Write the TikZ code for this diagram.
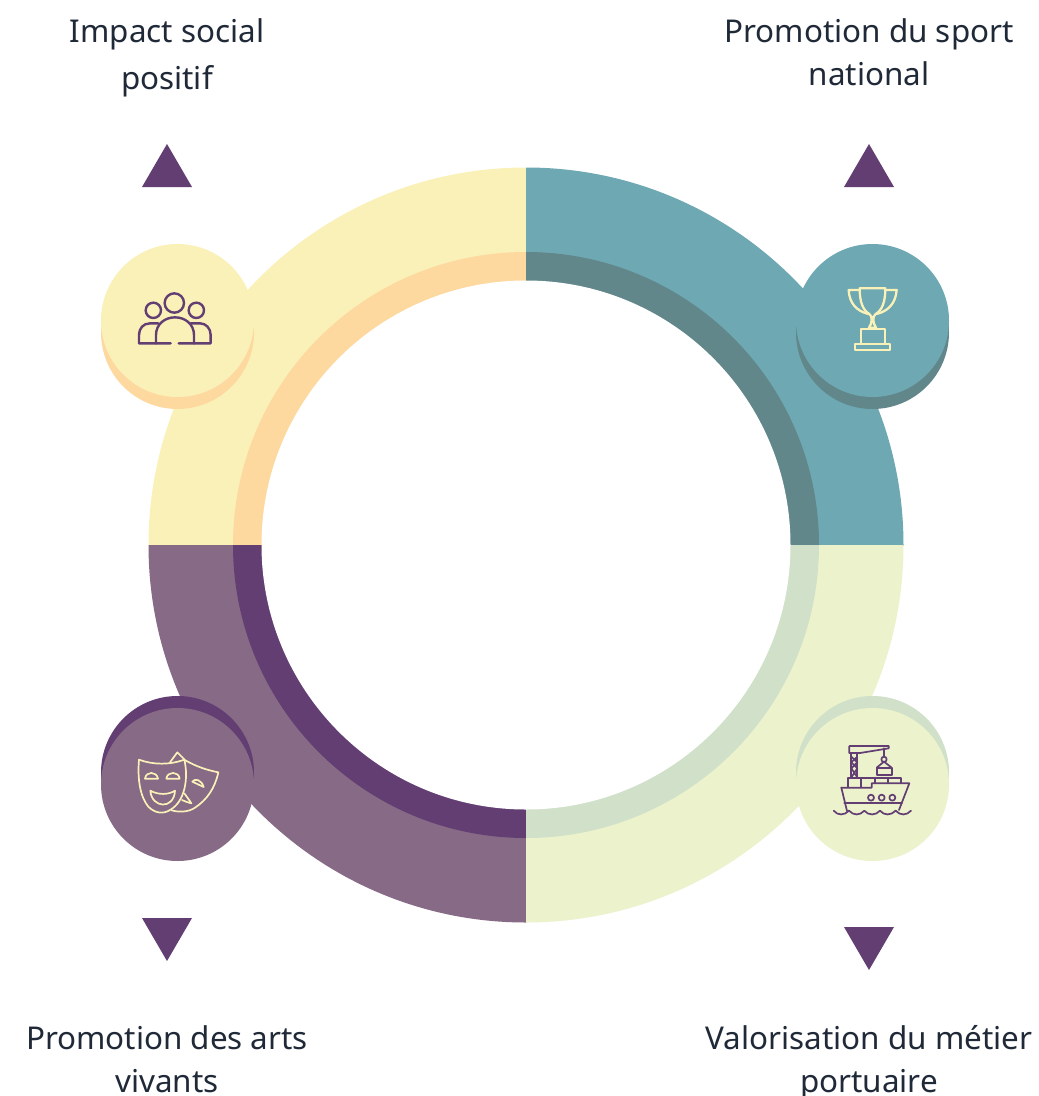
\documentclass[tikz,border=0pt]{standalone}
\usepackage{fontspec}
\setmainfont{Noto Sans}
\definecolor{yel}{HTML}{FAF1B9}
\definecolor{ora}{HTML}{FDD9A0}
\definecolor{tea}{HTML}{6EA8B3}
\definecolor{dtea}{HTML}{61878A}
\definecolor{grn}{HTML}{ECF2CC}
\definecolor{sag}{HTML}{D0E0C9}
\definecolor{lpu}{HTML}{876A85}
\definecolor{pur}{HTML}{623E73}
\definecolor{ink}{HTML}{1F2937}
\tikzset{
  lab/.style={font=\fontsize{31.4}{31.4}\selectfont,text=ink,inner sep=0pt,anchor=base},
  tri/.style={fill=pur,draw=none},
  iconscope/.style={scale=1/3,line join=round,line cap=round,line width=1.7pt,fill=none},
}
\newcommand{\quadrant}[3]{%
  \begin{scope}
    \clip #1;
    \fill[#2] (526,545) circle[radius=377.5pt];
    \fill[#3] (526,545) circle[radius=293pt];
  \end{scope}}
\begin{document}
\begin{tikzpicture}[x=1pt,y=-1pt]
\useasboundingbox (0,0) rectangle (1039,1096);
\fill[white] (0,0) rectangle (1039,1096);
% ring
\quadrant{(526,545) rectangle (100,100)}{yel}{ora}
\quadrant{(526,545) rectangle (950,100)}{tea}{dtea}
\quadrant{(526,545) rectangle (100,950)}{lpu}{pur}
\quadrant{(526,545) rectangle (950,950)}{grn}{sag}
\fill[white] (526,545) circle[radius=264.5pt];
% discs
\fill[ora] (177.5,332.5) circle[radius=76.5pt];
\fill[yel] (177.5,320.5) circle[radius=76.5pt];
\fill[dtea] (872.5,332.5) circle[radius=76.5pt];
\fill[tea] (872.5,320.5) circle[radius=76.5pt];
\fill[pur] (177.5,772.5) circle[radius=76.5pt];
\fill[lpu] (177.5,784.5) circle[radius=76.5pt];
\fill[sag] (872.5,772.5) circle[radius=76.5pt];
\fill[grn] (872.5,784.5) circle[radius=76.5pt];
% people icon
\begin{scope}[shift={(90,230)},iconscope,draw=pur,line width=2.4pt]
  \draw (253,219) circle[radius=29pt];
  \draw (190,241) circle[radius=23pt];
  \draw (319,241) circle[radius=23pt];
  \draw (242,340) -- (198,340) -- (198,315) .. controls (198,282) and (225,262) .. (255,262) .. controls (285,262) and (312,282) .. (312,315) -- (312,340) -- (266,340);
  \draw (198,340) -- (147,340) -- (147,315) .. controls (147,295) and (160,280) .. (180,280) -- (205,280);
  \draw (312,340) -- (362,340) -- (362,315) .. controls (362,295) and (348,280) .. (330,280) -- (302,280);
\end{scope}
% trophy icon
\begin{scope}[shift={(785,230)},iconscope,draw=yel,line width=2.3pt]
  \draw (224,175) -- (301,175) .. controls (301,215) and (292,240) .. (272,252) .. controls (262,258) and (263,280) .. (273,293) -- (252,293) .. controls (262,280) and (263,258) .. (253,252) .. controls (233,240) and (224,215) .. (224,175) -- cycle;
  \draw (224,180) -- (191,180) .. controls (193,220) and (215,243) .. (250,252);
  \draw (301,180) -- (335,180) .. controls (332,220) and (310,243) .. (275,252);
  \draw (227,342) -- (227,296) -- (301,296) -- (301,342);
  \draw (209,342) rectangle (316,361);
\end{scope}
% masks icon
\begin{scope}[shift={(90,685)},iconscope,draw=yel]
  \draw (147,224) .. controls (190,240) and (240,240) .. (283,224) .. controls (296,280) and (285,350) .. (240,375) .. controls (220,388) and (195,385) .. (175,365) .. controls (150,335) and (142,280) .. (147,224) -- cycle;
  \draw (165,281) .. controls (168,258) and (200,258) .. (204,281) -- cycle;
  \draw (229,281) .. controls (232,258) and (266,258) .. (269,281) -- cycle;
  \draw (181,317) .. controls (205,330) and (235,330) .. (255,317) .. controls (252,375) and (185,370) .. (181,317) -- cycle;
  \draw (240,232) -- (262,202) -- (286,226) .. controls (320,245) and (350,255) .. (385,262) .. controls (375,310) and (350,345) .. (315,368) .. controls (295,382) and (265,382) .. (245,376);
  \draw (307,290) .. controls (315,278) and (335,285) .. (341,306) -- cycle;
  \draw (283,325) .. controls (290,335) and (298,345) .. (304,355) .. controls (295,352) and (285,350) .. (276,345);
\end{scope}
% ship icon
\begin{scope}[shift={(785,685)},iconscope,draw=pur]
  \draw (193,204) -- (193,183) -- (311,183) -- (311,190) -- (225,204) -- cycle;
  \draw (199,204) -- (199,277) (217,204) -- (217,277);
  \draw (199,215) -- (217,232) -- (199,250) -- (217,277) (217,215) -- (199,232) -- (217,250) -- (199,277);
  \draw (297,190) -- (297,215);
  \draw (297,223) circle[radius=8pt];
  \draw (275,248) -- (297,230) -- (320,248);
  \draw (275,248) rectangle (322,270);
  \draw (189,307) -- (189,278) -- (349,278) -- (349,295);
  \draw (229,278) -- (229,307) (269,278) -- (269,295) (309,278) -- (309,295);
  \draw (169,308) -- (260,308) -- (260,295) -- (373,295) -- (342,375);
  \draw (169,308) -- (186,378);
  \draw (178,355) -- (351,355);
  \draw (258,338) circle[radius=9pt];
  \draw (290,338) circle[radius=9pt];
  \draw (322,338) circle[radius=9pt];
  \draw (146,377) .. controls (158,392) and (178,392) .. (192,377) .. controls (205,392) and (225,392) .. (238,377) .. controls (250,392) and (272,392) .. (285,377) .. controls (297,392) and (318,392) .. (332,377) .. controls (345,392) and (365,392) .. (378,377);
\end{scope}
% triangles
\fill[tri] (167,144) -- (192,187) -- (142,187) -- cycle;
\fill[tri] (869,144) -- (894,187) -- (844,187) -- cycle;
\fill[tri] (167,961) -- (192,918) -- (142,918) -- cycle;
\fill[tri] (869,970) -- (894,927) -- (844,927) -- cycle;
% labels
\node[lab] (l1a) at (167,42) {Impact social};
\node[lab] (l1b) at (167,89) {positif};
\node[lab] (l2a) at (869,42) {Promotion du sport};
\node[lab] (l2b) at (869,85) {national};
\node[lab] (l3a) at (167,1049) {Promotion des arts};
\node[lab] (l3b) at (167,1092) {vivants};
\node[lab] (l4a) at (869,1049) {Valorisation du métier};
\node[lab] (l4b) at (869,1092) {portuaire};
\end{tikzpicture}
\end{document}
